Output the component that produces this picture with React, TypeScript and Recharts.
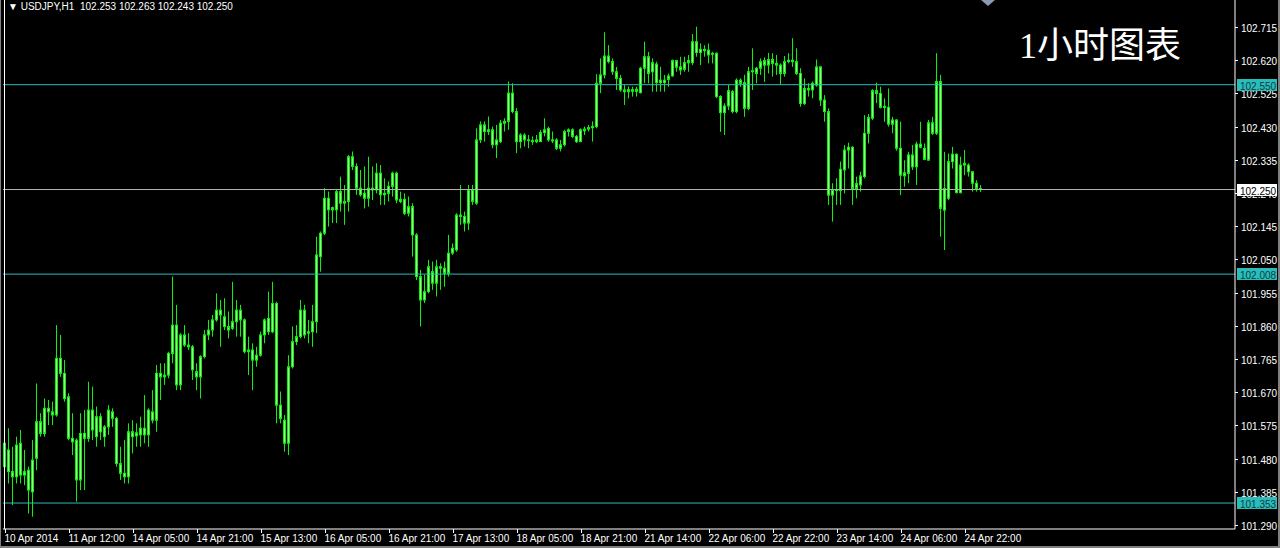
import React from 'react';
import { ComposedChart, Bar, XAxis, YAxis, ReferenceLine } from 'recharts';

// USDJPY H1, 10 Apr 2014 -> 25 Apr 2014
const dateLabels = [
  '10 Apr 2014', '11 Apr 12:00', '14 Apr 05:00', '14 Apr 21:00', '15 Apr 13:00', '16 Apr 05:00',
  '16 Apr 21:00', '17 Apr 13:00', '18 Apr 05:00', '18 Apr 21:00', '21 Apr 14:00', '22 Apr 06:00',
  '22 Apr 22:00', '23 Apr 14:00', '24 Apr 06:00', '24 Apr 22:00',
];
const labelEvery = 16;

const priceTicks = [
  102.715, 102.62, 102.525, 102.43, 102.335, 102.24, 102.145, 102.05,
  101.955, 101.86, 101.765, 101.67, 101.575, 101.48, 101.385, 101.29,
];
const levels = [102.55, 102.008, 101.353];
const bid = 102.25;

const opens = [
  101.524, 101.443, 101.443, 101.428, 101.524, 101.433, 101.447, 101.385, 101.481, 101.586,
  101.552, 101.624, 101.614, 101.605, 101.767, 101.724, 101.657, 101.538, 101.533, 101.419,
  101.552, 101.538, 101.619, 101.543, 101.600, 101.543, 101.571, 101.614, 101.595, 101.466,
  101.438, 101.428, 101.557, 101.545, 101.548, 101.567, 101.548, 101.614, 101.590, 101.724,
  101.714, 101.719, 101.781, 101.862, 101.691, 101.834, 101.805, 101.800, 101.729, 101.714,
  101.772, 101.834, 101.848, 101.877, 101.905, 101.886, 101.858, 101.853, 101.872, 101.905,
  101.877, 101.786, 101.791, 101.762, 101.776, 101.834, 101.881, 101.843, 101.924, 101.633,
  101.590, 101.524, 101.743, 101.815, 101.829, 101.905, 101.839, 101.843, 101.872, 102.058,
  102.125, 102.225, 102.192, 102.192, 102.244, 102.211, 102.216, 102.344, 102.316, 102.254,
  102.239, 102.225, 102.254, 102.249, 102.297, 102.235, 102.239, 102.259, 102.297, 102.222,
  102.222, 102.182, 102.201, 102.120, 102.001, 101.934, 101.958, 102.015, 101.982, 102.029,
  102.025, 102.010, 102.068, 102.077, 102.177, 102.173, 102.154, 102.249, 102.211, 102.392,
  102.435, 102.416, 102.421, 102.378, 102.387, 102.440, 102.445, 102.526, 102.473, 102.387,
  102.406, 102.392, 102.390, 102.387, 102.387, 102.413, 102.425, 102.392, 102.392, 102.368,
  102.378, 102.416, 102.421, 102.402, 102.387, 102.418, 102.423, 102.427, 102.430, 102.554,
  102.578, 102.632, 102.616, 102.587, 102.568, 102.535, 102.530, 102.536, 102.531, 102.527,
  102.597, 102.630, 102.587, 102.609, 102.556, 102.563, 102.565, 102.575, 102.619, 102.601,
  102.594, 102.613, 102.613, 102.673, 102.642, 102.651, 102.649, 102.637, 102.640, 102.516,
  102.470, 102.489, 102.530, 102.473, 102.563, 102.556, 102.482, 102.587, 102.597, 102.597,
  102.606, 102.606, 102.622, 102.611, 102.606, 102.582, 102.616, 102.620, 102.616, 102.582,
  102.496, 102.539, 102.535, 102.549, 102.601, 102.506, 102.473, 102.234, 102.250, 102.247,
  102.306, 102.363, 102.371, 102.253, 102.263, 102.287, 102.411, 102.454, 102.533, 102.525,
  102.485, 102.485, 102.437, 102.449, 102.368, 102.289, 102.296, 102.349, 102.315, 102.380,
  102.368, 102.334, 102.441, 102.411, 102.559, 102.191, 102.225, 102.330, 102.351, 102.241,
  102.320, 102.320, 102.301, 102.268, 102.253,
];
const highs = [
  101.562, 101.567, 101.514, 101.543, 101.562, 101.505, 101.457, 101.533, 101.695, 101.610,
  101.652, 101.648, 101.643, 101.862, 101.834, 101.762, 101.667, 101.610, 101.538, 101.610,
  101.619, 101.700, 101.686, 101.629, 101.610, 101.576, 101.633, 101.624, 101.600, 101.514,
  101.533, 101.581, 101.590, 101.581, 101.600, 101.662, 101.624, 101.676, 101.748, 101.753,
  101.753, 101.786, 102.001, 101.920, 101.839, 101.862, 101.839, 101.805, 101.753, 101.776,
  101.848, 101.877, 101.891, 101.953, 101.934, 101.939, 101.901, 101.986, 101.934, 101.920,
  101.881, 101.829, 101.810, 101.800, 101.843, 101.881, 101.958, 101.986, 101.929, 101.672,
  101.605, 101.776, 101.858, 101.862, 101.934, 101.920, 101.877, 101.920, 102.115, 102.130,
  102.254, 102.244, 102.201, 102.249, 102.287, 102.263, 102.349, 102.359, 102.325, 102.306,
  102.316, 102.344, 102.316, 102.325, 102.320, 102.282, 102.273, 102.301, 102.301, 102.244,
  102.239, 102.230, 102.211, 102.125, 102.020, 102.006, 102.049, 102.044, 102.049, 102.039,
  102.044, 102.120, 102.096, 102.182, 102.263, 102.187, 102.263, 102.263, 102.425, 102.445,
  102.445, 102.459, 102.430, 102.435, 102.449, 102.454, 102.559, 102.554, 102.483, 102.411,
  102.411, 102.406, 102.402, 102.406, 102.421, 102.454, 102.430, 102.416, 102.397, 102.392,
  102.421, 102.425, 102.425, 102.406, 102.425, 102.430, 102.435, 102.445, 102.580, 102.625,
  102.700, 102.663, 102.625, 102.601, 102.578, 102.549, 102.545, 102.544, 102.544, 102.601,
  102.673, 102.644, 102.625, 102.616, 102.601, 102.578, 102.582, 102.622, 102.621, 102.630,
  102.630, 102.635, 102.695, 102.716, 102.668, 102.663, 102.668, 102.644, 102.642, 102.520,
  102.497, 102.549, 102.535, 102.568, 102.568, 102.578, 102.601, 102.654, 102.601, 102.625,
  102.628, 102.641, 102.640, 102.635, 102.611, 102.632, 102.640, 102.683, 102.654, 102.597,
  102.568, 102.554, 102.559, 102.622, 102.603, 102.520, 102.482, 102.268, 102.282, 102.330,
  102.377, 102.384, 102.374, 102.287, 102.301, 102.463, 102.466, 102.537, 102.556, 102.544,
  102.511, 102.539, 102.458, 102.451, 102.444, 102.334, 102.358, 102.377, 102.387, 102.444,
  102.382, 102.449, 102.458, 102.640, 102.578, 102.358, 102.353, 102.372, 102.353, 102.344,
  102.363, 102.325, 102.301, 102.277, 102.263,
];
const lows = [
  101.419, 101.409, 101.347, 101.409, 101.409, 101.404, 101.323, 101.314, 101.447, 101.543,
  101.543, 101.576, 101.576, 101.600, 101.714, 101.643, 101.533, 101.490, 101.357, 101.390,
  101.390, 101.528, 101.533, 101.514, 101.533, 101.514, 101.548, 101.571, 101.457, 101.419,
  101.409, 101.409, 101.495, 101.514, 101.514, 101.524, 101.514, 101.581, 101.557, 101.648,
  101.691, 101.710, 101.753, 101.676, 101.676, 101.800, 101.791, 101.705, 101.676, 101.652,
  101.767, 101.819, 101.829, 101.872, 101.800, 101.848, 101.824, 101.848, 101.829, 101.829,
  101.781, 101.719, 101.676, 101.743, 101.772, 101.810, 101.834, 101.839, 101.581, 101.581,
  101.500, 101.490, 101.738, 101.805, 101.824, 101.824, 101.810, 101.800, 101.839, 102.015,
  102.120, 102.144, 102.154, 102.154, 102.187, 102.149, 102.187, 102.306, 102.235, 102.230,
  102.196, 102.201, 102.220, 102.239, 102.206, 102.206, 102.216, 102.230, 102.211, 102.211,
  102.177, 102.173, 102.058, 101.991, 101.858, 101.925, 101.953, 101.963, 101.944, 101.963,
  101.972, 102.001, 102.063, 102.072, 102.149, 102.130, 102.134, 102.206, 102.206, 102.383,
  102.387, 102.406, 102.368, 102.340, 102.383, 102.416, 102.421, 102.468, 102.354, 102.368,
  102.373, 102.368, 102.378, 102.383, 102.387, 102.402, 102.387, 102.383, 102.363, 102.359,
  102.373, 102.402, 102.397, 102.383, 102.387, 102.406, 102.416, 102.387, 102.425, 102.526,
  102.568, 102.611, 102.578, 102.535, 102.530, 102.492, 102.511, 102.516, 102.516, 102.525,
  102.554, 102.554, 102.530, 102.530, 102.530, 102.530, 102.544, 102.573, 102.587, 102.578,
  102.587, 102.587, 102.606, 102.630, 102.606, 102.630, 102.611, 102.611, 102.511, 102.415,
  102.406, 102.477, 102.468, 102.468, 102.544, 102.458, 102.477, 102.535, 102.554, 102.578,
  102.558, 102.582, 102.573, 102.578, 102.549, 102.573, 102.611, 102.601, 102.578, 102.487,
  102.492, 102.516, 102.511, 102.544, 102.489, 102.444, 102.206, 102.158, 102.206, 102.206,
  102.239, 102.310, 102.206, 102.225, 102.244, 102.282, 102.382, 102.449, 102.497, 102.482,
  102.444, 102.430, 102.411, 102.361, 102.234, 102.258, 102.268, 102.306, 102.263, 102.368,
  102.334, 102.334, 102.406, 102.406, 102.115, 102.077, 102.220, 102.310, 102.239, 102.239,
  102.291, 102.287, 102.244, 102.244, 102.243,
];
const closes = [
  101.457, 101.505, 101.428, 101.519, 101.433, 101.443, 101.390, 101.476, 101.586, 101.552,
  101.624, 101.614, 101.605, 101.767, 101.724, 101.652, 101.538, 101.528, 101.419, 101.552,
  101.538, 101.619, 101.562, 101.600, 101.557, 101.571, 101.619, 101.595, 101.466, 101.438,
  101.428, 101.557, 101.543, 101.554, 101.567, 101.548, 101.619, 101.590, 101.724, 101.714,
  101.719, 101.781, 101.862, 101.691, 101.834, 101.805, 101.800, 101.734, 101.714, 101.772,
  101.834, 101.848, 101.877, 101.905, 101.891, 101.858, 101.848, 101.872, 101.905, 101.877,
  101.786, 101.791, 101.762, 101.776, 101.834, 101.877, 101.843, 101.924, 101.633, 101.595,
  101.524, 101.743, 101.815, 101.829, 101.905, 101.834, 101.843, 101.872, 102.063, 102.125,
  102.225, 102.192, 102.198, 102.244, 102.211, 102.216, 102.344, 102.316, 102.254, 102.235,
  102.225, 102.254, 102.249, 102.297, 102.235, 102.239, 102.259, 102.297, 102.220, 102.216,
  102.182, 102.201, 102.120, 102.001, 101.934, 101.958, 102.029, 101.982, 102.029, 102.025,
  102.010, 102.068, 102.082, 102.177, 102.173, 102.154, 102.249, 102.216, 102.392, 102.435,
  102.416, 102.421, 102.378, 102.392, 102.440, 102.445, 102.526, 102.473, 102.387, 102.406,
  102.392, 102.390, 102.387, 102.392, 102.413, 102.421, 102.392, 102.389, 102.368, 102.378,
  102.416, 102.421, 102.402, 102.387, 102.421, 102.423, 102.427, 102.430, 102.554, 102.578,
  102.632, 102.616, 102.587, 102.568, 102.535, 102.530, 102.536, 102.531, 102.537, 102.597,
  102.630, 102.582, 102.613, 102.556, 102.563, 102.556, 102.575, 102.619, 102.600, 102.592,
  102.613, 102.619, 102.673, 102.642, 102.651, 102.647, 102.635, 102.640, 102.516, 102.470,
  102.489, 102.533, 102.473, 102.563, 102.554, 102.482, 102.587, 102.590, 102.582, 102.616,
  102.619, 102.622, 102.611, 102.606, 102.582, 102.616, 102.620, 102.616, 102.582, 102.496,
  102.539, 102.535, 102.554, 102.601, 102.506, 102.473, 102.234, 102.250, 102.247, 102.308,
  102.363, 102.371, 102.253, 102.267, 102.289, 102.411, 102.456, 102.533, 102.525, 102.485,
  102.488, 102.437, 102.449, 102.368, 102.291, 102.298, 102.349, 102.315, 102.380, 102.371,
  102.336, 102.441, 102.411, 102.559, 102.196, 102.253, 102.330, 102.351, 102.241, 102.320,
  102.325, 102.301, 102.268, 102.253, 102.250,
];
const emptyBars = 63; // chart shift space on the right

const rows: any[] = [];
for (let i = 0; i < opens.length + emptyBars; i++) {
  if (i < opens.length) {
    rows.push({ i, open: opens[i], high: highs[i], low: lows[i], close: closes[i], range: [lows[i], highs[i]] });
  } else {
    rows.push({ i });
  }
}

const GREEN = '#10f010';
const BODY = '#a0ff90';
const CYAN = '#2bbcbc';
const FONT = '"Liberation Sans", Arial, sans-serif';

const Candle = (props: any) => {
  const { x, y, width, height, payload } = props;
  if (!payload || payload.high == null) return null;
  const top = height < 0 ? y + height : y;
  const h = Math.abs(height);
  const { open, close, high, low } = payload;
  const k = high > low ? h / (high - low) : 0;
  const yAt = (v: number) => top + (high - v) * k;
  const cx = Math.floor(x + width / 2 + 0.01) + 0.5;
  const b1 = yAt(Math.max(open, close));
  const b2 = yAt(Math.min(open, close));
  return (
    <g>
      <line x1={cx} x2={cx} y1={top} y2={top + h} stroke={GREEN} strokeWidth={1} />
      <rect x={cx - 1} y={b1} width={2} height={Math.max(b2 - b1, 0.5)} fill={BODY} stroke={GREEN} strokeWidth={1} />
    </g>
  );
};

const TimeTick = (props: any) => {
  const { x, y, payload } = props;
  const i = payload.value;
  if (i % labelEvery !== 0 || i / labelEvery >= dateLabels.length) return null;
  const px = Math.floor(x) + 0.5;
  return (
    <g>
      <line x1={px} x2={px} y1={y} y2={y + 4} stroke="#fff" />
      <text x={px - 1} y={y + 13} fill="#fff" fontSize={10} fontFamily={FONT} textAnchor="start">
        {dateLabels[i / labelEvery]}
      </text>
    </g>
  );
};

const PriceTick = (props: any) => {
  const { x, y, payload } = props;
  const v = payload.value;
  const py = Math.round(y) + 0.5;
  const label = v.toFixed(3);
  if (levels.includes(v) || v === bid) {
    const isBid = v === bid;
    return (
      <g>
        <rect x={x + 2} y={py - 6.5} width={40} height={12} fill={isBid ? '#ffffff' : CYAN} />
        <text x={x + 5} y={py + 4} fill={isBid ? '#000' : '#0a3c3c'} fontSize={10} fontFamily={FONT}>{label}</text>
      </g>
    );
  }
  return (
    <g>
      <line x1={x} x2={x + 3} y1={py} y2={py} stroke="#fff" />
      <text x={x + 6} y={py + 4} fill="#fff" fontSize={10} fontFamily={FONT}>{label}</text>
    </g>
  );
};

export default function App() {
  return (
    <div style={{ position: 'absolute', left: 0, top: 0, width: 1280, height: 548, background: '#000', overflow: 'hidden' }}>
      <ComposedChart width={1280} height={548} data={rows} margin={{ top: 0, right: 0, bottom: 0, left: 3 }}>
        <XAxis
          dataKey="i"
          type="category"
          height={19}
          interval={0}
          tickSize={0}
          tickMargin={0}
          tickLine={false}
          axisLine={{ stroke: '#fff' }}
          tick={<TimeTick />}
        />
        <YAxis
          orientation="right"
          type="number"
          width={45}
          domain={[101.2787, 102.7923]}
          allowDataOverflow
          interval={0}
          ticks={[...priceTicks, ...levels, bid]}
          tickSize={0}
          tickMargin={0}
          tickLine={false}
          axisLine={{ stroke: '#fff' }}
          tick={<PriceTick />}
        />
        {levels.map((lv) => (
          <ReferenceLine key={lv} y={lv} stroke={CYAN} strokeWidth={1} />
        ))}
        <ReferenceLine y={bid} stroke="#b4b4b4" strokeWidth={1} />
        <Bar dataKey="range" shape={<Candle />} isAnimationActive={false} />
      </ComposedChart>
      <div style={{ position: 'absolute', left: 4, top: 0, width: 1, height: 529, background: '#fff' }} />
      <div style={{ position: 'absolute', left: 0, top: 0, width: 1, height: 548, background: '#808080' }} />
      <div style={{ position: 'absolute', left: 1278, top: 0, width: 2, height: 548, background: '#808080' }} />
      <div style={{ position: 'absolute', left: 0, top: 546, width: 1280, height: 2, background: '#808080' }} />
      <div style={{ position: 'absolute', left: 8, top: 1, color: '#fff', fontSize: 10, fontFamily: FONT, whiteSpace: 'pre' }}>
        {'\u25BC USDJPY,H1  102.253 102.263 102.243 102.250'}
      </div>
      <svg style={{ position: 'absolute', left: 981, top: 0 }} width={14} height={8}>
        <polygon points="0,0 14,0 7,6" fill="#8a9ab0" />
      </svg>
      <div style={{ position: 'absolute', left: 1019, top: 23, color: '#fff', fontSize: 36, fontFamily: '"Liberation Serif", "Noto Sans CJK SC", serif', lineHeight: '46px', whiteSpace: 'nowrap' }}>
        1小时图表
      </div>
    </div>
  );
}
